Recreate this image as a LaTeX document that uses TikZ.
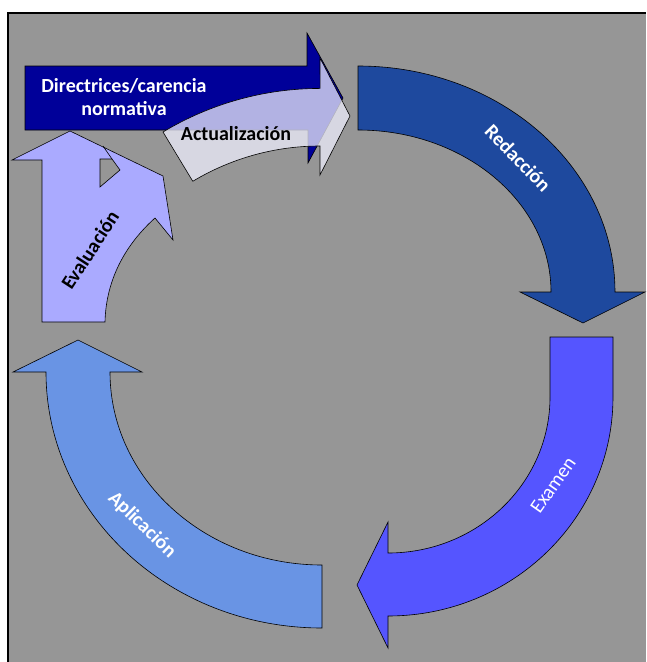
\documentclass[tikz,border=0pt]{standalone}
\usepackage{fontspec}
\setmainfont{Carlito}
\usepackage{xcolor}
\usepackage{tikz}

\definecolor{bggray}{RGB}{150,150,150}
\definecolor{navyblue}{RGB}{0,0,153}
\definecolor{redacblue}{RGB}{30,73,158}
\definecolor{examblue}{RGB}{85,85,255}
\definecolor{aplicblue}{RGB}{105,148,228}
\definecolor{evallav}{RGB}{170,170,255}
\definecolor{actuallav}{RGB}{238,238,252}

\begin{document}
\begin{tikzpicture}[
    x=1pt, y=-1pt,
    piece/.style={draw=black, line width=0.6pt, line join=miter},
    tag/.style={font=\bfseries\fontsize{20}{23}\selectfont, inner sep=1pt},
    whitetag/.style={tag, text=white}
]

\useasboundingbox (0,0) rectangle (646,662);
\fill[bggray] (8,13) rectangle (646,662);
\draw[line width=1.5pt] (8,662) -- (8,13) -- (646,13);

% redaccion
\draw[piece, fill=redacblue] (358,66) arc[start angle=-90, end angle=0, x radius=257, y radius=226]
    -- (645,292) -- (583,323) -- (520,292) -- (551,292)
    arc[start angle=0, end angle=-90, x radius=193, y radius=162] -- cycle;

% examen
\draw[piece, fill=examblue] (550,337) -- (613,337) -- (613,397)
    arc[start angle=0, end angle=90, x radius=225, y radius=219]
    -- (388,648) -- (357,585) -- (388,522) -- (388,553)
    arc[start angle=90, end angle=0, x radius=162, y radius=156] -- cycle;

% aplicacion
\draw[piece, fill=aplicblue] (322,565) -- (322,628)
    arc[start angle=90, end angle=180, x radius=276, y radius=256]
    -- (13,372) -- (78,340) -- (142,372) -- (110,372)
    arc[start angle=180, end angle=90, x radius=212, y radius=193] -- cycle;

% evaluacion
\draw[piece, fill=evallav] (42,322) -- (42,160) -- (12,160) -- (70,131) -- (163,176)
    -- (173,240) -- (155,218) .. controls (125,245) and (106,280) .. (105,322) -- cycle;
\draw[piece, fill=bggray] (100,159) -- (112,159) -- (120,170) -- (100,187) -- cycle;
\draw[piece] (103,146) -- (112,159);

% directrices
\draw[piece, fill=navyblue] (25,66) -- (307,66) -- (307,33) -- (343,98)
    -- (308,163) -- (308,130) -- (25,130) -- cycle;

% actualizacion
\draw[piece, fill=actuallav, fill opacity=0.75] (163,132)
    arc[start angle=-121, end angle=-90, radius=305]
    -- (320,58) -- (350,116) -- (320,175) -- (320,146)
    arc[start angle=-90, end angle=-121, radius=247] -- cycle;

\node[whitetag, align=center] (directrices) at (124,97) {Directrices/carencia\\normativa};
\node[tag] (actualizacion) at (236,134) {Actualización};
\node[whitetag, rotate=-46] (redaccion) at (518,158) {Redacción};
\node[tag, font=\fontsize{20}{23}\selectfont, text=white, rotate=55] (examen) at (553,485) {Examen};
\node[whitetag, rotate=-44] (aplicacion) at (142,525) {Aplicación};
\node[tag, rotate=57] (evaluacion) at (90,250) {Evaluación};

\end{tikzpicture}
\end{document}
